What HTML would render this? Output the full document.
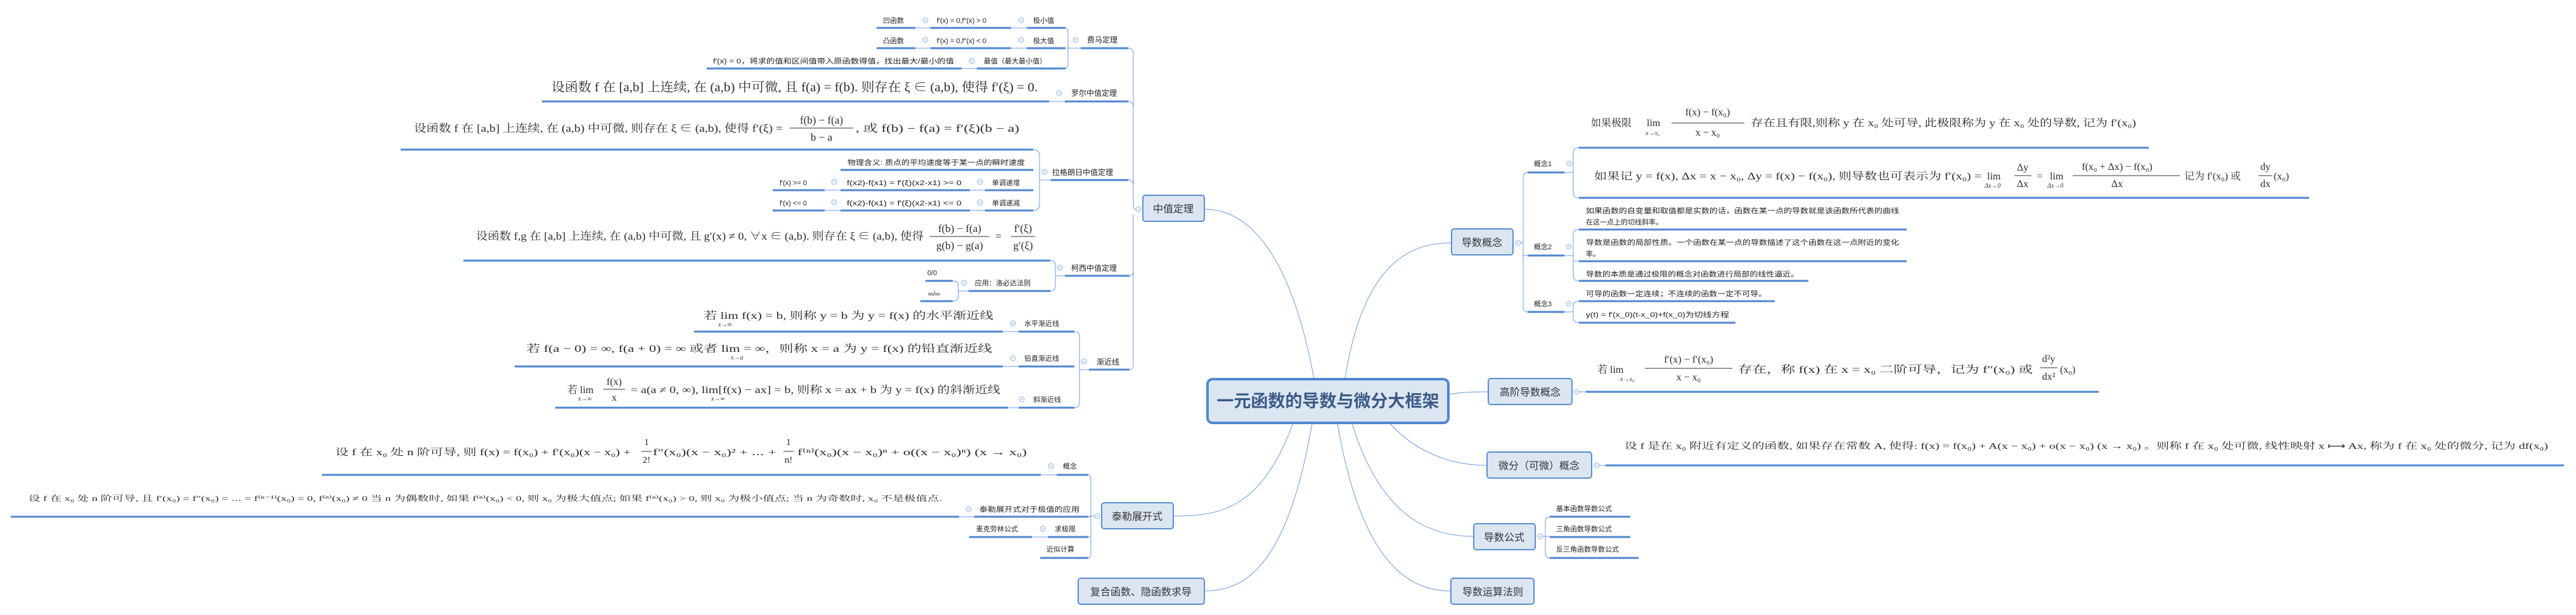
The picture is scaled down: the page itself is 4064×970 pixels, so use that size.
<!DOCTYPE html>
<html><head><meta charset="utf-8"><style>
html,body{margin:0;padding:0;background:#fff;}
svg{display:block}
.s{font-family:"Liberation Sans","Noto Sans CJK SC",sans-serif;font-size:11px;fill:#222}
.m{font-family:"Liberation Sans","Noto Sans CJK SC",sans-serif;font-size:12px;fill:#222}
.n{font-family:"Liberation Sans","Noto Sans CJK SC",sans-serif;font-size:16px;fill:#333}
.f{font-family:"Liberation Serif","Noto Serif CJK SC",serif;fill:#2a2a2a}
.fs{font-family:"Liberation Serif","Noto Serif CJK SC",serif;fill:#333;font-style:italic;font-size:10px}
.u{stroke:#4f86cf;stroke-width:3;fill:none}
.t{stroke:#6f9be0;stroke-width:1;fill:none}
.node{fill:#dce6f2;stroke:#5b8fd0;stroke-width:2}
.bar{stroke:#333;stroke-width:1}
</style></head><body>
<svg width="4064" height="970" viewBox="0 0 4064 970" xmlns="http://www.w3.org/2000/svg">
<defs>
<g id="c"><circle cx="0" cy="0" r="4" fill="#fff" stroke="#8aaee0" stroke-width="1"/><line x1="-2" y1="0" x2="2" y2="0" stroke="#8aaee0" stroke-width="1"/></g>
</defs>

<path class="t" d="M2073,597 C2040,420 1980,330 1900,330"/>
<path class="t" d="M2040,668 C1990,800 1930,814 1851,814"/>
<path class="t" d="M2070,668 C2030,900 1960,932 1900,932"/>
<path class="t" d="M2122,597 C2150,420 2220,383 2290,383"/>
<path class="t" d="M2286,622 C2310,618 2330,618 2348,618"/>
<path class="t" d="M2193,668 C2240,720 2300,734 2346,734"/>
<path class="t" d="M2133,668 C2180,820 2260,846 2325,846"/>
<path class="t" d="M2110,668 C2150,900 2230,932 2289,932"/>

<rect x="1905" y="598" width="380" height="69" rx="8" fill="#dce6f2" stroke="#4f86cf" stroke-width="4"/>
<text x="2095" y="642" text-anchor="middle" style="font-family:'Liberation Sans','Noto Sans CJK SC',sans-serif;font-size:27px;font-weight:bold;fill:#3b5b86">一元函数的导数与微分大框架</text>

<rect class="node" x="1803" y="308" width="97" height="41" rx="4"/>
<text class="n" x="1851" y="335" text-anchor="middle">中值定理</text>
<use href="#c" x="1796" y="330"/>
<path class="t" d="M1792,330 Q1788,330 1788,322 L1788,84 Q1788,76 1780,76"/>
<path class="t" d="M1788,170 Q1788,160 1780,160"/>
<path class="t" d="M1788,292 Q1788,284 1780,284"/>
<path class="t" d="M1788,338 L1788,575 Q1788,583 1782,583"/>
<path class="t" d="M1788,427 Q1788,435 1782,435"/>

<text class="m" x="1715" y="67">费马定理</text>
<line class="u" x1="1705" y1="76" x2="1780" y2="76"/>
<use href="#c" x="1697" y="63"/>
<path class="t" d="M1705,76 L1683,76 M1681,44 Q1685,44 1685,52 L1685,100 Q1685,108 1681,108"/>
<text class="s" x="1393" y="36">凹函数</text>
<line class="u" x1="1383" y1="44" x2="1444" y2="44"/>
<line class="t" x1="1444" y1="44" x2="1468" y2="44"/>
<use href="#c" x="1460" y="32"/>
<text class="s" x="1478" y="36">f′(x) = 0,f″(x) &gt; 0</text>
<line class="u" x1="1468" y1="44" x2="1595" y2="44"/>
<line class="t" x1="1595" y1="44" x2="1620" y2="44"/>
<use href="#c" x="1611" y="32"/>
<text class="s" x="1630" y="36">极小值</text>
<line class="u" x1="1620" y1="44" x2="1681" y2="44"/>

<text class="s" x="1393" y="68">凸函数</text>
<line class="u" x1="1383" y1="76" x2="1444" y2="76"/>
<line class="t" x1="1444" y1="76" x2="1468" y2="76"/>
<use href="#c" x="1460" y="63"/>
<text class="s" x="1478" y="68">f′(x) = 0,f″(x) &lt; 0</text>
<line class="u" x1="1468" y1="76" x2="1595" y2="76"/>
<line class="t" x1="1595" y1="76" x2="1620" y2="76"/>
<use href="#c" x="1611" y="63"/>
<text class="s" x="1630" y="68">极大值</text>
<line class="u" x1="1620" y1="76" x2="1681" y2="76"/>

<text class="s" x="1125" y="100" textLength="380" lengthAdjust="spacingAndGlyphs">f′(x) = 0，将求的值和区间值带入原函数得值，找出最大/最小的值</text>
<line class="u" x1="1115" y1="108" x2="1517" y2="108"/>
<line class="t" x1="1517" y1="108" x2="1541" y2="108"/>
<use href="#c" x="1533" y="96"/>
<text class="s" x="1552" y="100">最值（最大最小值）</text>
<line class="u" x1="1541" y1="108" x2="1681" y2="108"/>

<text class="f" x="870" y="144" font-size="20" textLength="767" lengthAdjust="spacingAndGlyphs">设函数 f 在 [a,b] 上连续, 在 (a,b) 中可微, 且 f(a) = f(b). 则存在 ξ ∈ (a,b), 使得 f′(ξ) = 0.</text>
<line class="u" x1="855" y1="160" x2="1655" y2="160"/>
<line class="t" x1="1655" y1="160" x2="1680" y2="160"/>
<use href="#c" x="1671" y="147"/>
<text class="m" x="1690" y="151">罗尔中值定理</text>
<line class="u" x1="1680" y1="160" x2="1780" y2="160"/>

<text class="f" x="653" y="208" font-size="17" textLength="582" lengthAdjust="spacingAndGlyphs">设函数 f 在 [a,b] 上连续, 在 (a,b) 中可微, 则存在 ξ ∈ (a,b), 使得 f′(ξ) =</text>
<text class="f" x="1296" y="195" font-size="17" text-anchor="middle">f(b) − f(a)</text>
<line class="bar" x1="1246" y1="202" x2="1346" y2="202"/>
<text class="f" x="1296" y="222" font-size="17" text-anchor="middle">b − a</text>
<text class="f" x="1350" y="208" font-size="17" textLength="258" lengthAdjust="spacingAndGlyphs">, 或 f(b) − f(a) = f′(ξ)(b − a)</text>
<line class="u" x1="632" y1="236" x2="1630" y2="236"/>

<text class="s" x="1337" y="260" textLength="280" lengthAdjust="spacingAndGlyphs">物理含义: 质点的平均速度等于某一点的瞬时速度</text>
<line class="u" x1="1326" y1="268" x2="1630" y2="268"/>
<text class="s" x="1230" y="292">f′(x) &gt;= 0</text>
<line class="u" x1="1219" y1="300" x2="1301" y2="300"/>
<line class="t" x1="1301" y1="300" x2="1326" y2="300"/>
<use href="#c" x="1316" y="287"/>
<text class="s" x="1336" y="292" textLength="181" lengthAdjust="spacingAndGlyphs">f(x2)-f(x1) = f′(ξ)(x2-x1) &gt;= 0</text>
<line class="u" x1="1326" y1="300" x2="1530" y2="300"/>
<line class="t" x1="1530" y1="300" x2="1554" y2="300"/>
<use href="#c" x="1546" y="287"/>
<text class="s" x="1565" y="292">单调递增</text>
<line class="u" x1="1554" y1="300" x2="1630" y2="300"/>
<text class="s" x="1230" y="324">f′(x) &lt;= 0</text>
<line class="u" x1="1219" y1="332" x2="1301" y2="332"/>
<line class="t" x1="1301" y1="332" x2="1326" y2="332"/>
<use href="#c" x="1316" y="319"/>
<text class="s" x="1336" y="324" textLength="181" lengthAdjust="spacingAndGlyphs">f(x2)-f(x1) = f′(ξ)(x2-x1) &lt;= 0</text>
<line class="u" x1="1326" y1="332" x2="1530" y2="332"/>
<line class="t" x1="1530" y1="332" x2="1554" y2="332"/>
<use href="#c" x="1546" y="319"/>
<text class="s" x="1565" y="324">单调递减</text>
<line class="u" x1="1554" y1="332" x2="1630" y2="332"/>
<path class="t" d="M1630,236 Q1640,236 1640,246 L1640,322 Q1640,332 1630,332 M1640,284 L1665,284"/>
<use href="#c" x="1648" y="271"/>
<text class="m" x="1660" y="276">拉格朗日中值定理</text>
<line class="u" x1="1658" y1="284" x2="1780" y2="284"/>

<text class="f" x="751" y="378" font-size="17" textLength="706" lengthAdjust="spacingAndGlyphs">设函数 f,g 在 [a,b] 上连续, 在 (a,b) 中可微, 且 g′(x) ≠ 0, ∀x ∈ (a,b). 则存在 ξ ∈ (a,b), 使得</text>
<text class="f" x="1514" y="366" font-size="17" text-anchor="middle">f(b) − f(a)</text>
<line class="bar" x1="1467" y1="373" x2="1561" y2="373"/>
<text class="f" x="1514" y="393" font-size="17" text-anchor="middle">g(b) − g(a)</text>
<text class="f" x="1575" y="378" font-size="17" text-anchor="middle">=</text>
<text class="f" x="1614" y="366" font-size="17" text-anchor="middle">f′(ξ)</text>
<line class="bar" x1="1595" y1="373" x2="1633" y2="373"/>
<text class="f" x="1614" y="393" font-size="17" text-anchor="middle">g′(ξ)</text>
<line class="u" x1="731" y1="411" x2="1657" y2="411"/>
<text class="s" x="1463" y="434">0/0</text>
<line class="u" x1="1460" y1="443" x2="1503" y2="443"/>
<text class="s" x="1464" y="467">∞/∞</text>
<line class="u" x1="1452" y1="475" x2="1503" y2="475"/>
<path class="t" d="M1503,443 Q1512,443 1512,451 L1512,467 Q1512,475 1503,475 M1512,459 L1528,459"/>
<use href="#c" x="1521" y="446"/>
<text class="s" x="1538" y="450">应用：洛必达法则</text>
<line class="u" x1="1528" y1="459" x2="1657" y2="459"/>
<path class="t" d="M1657,411 Q1665,411 1665,419 L1665,451 Q1665,459 1657,459 M1665,435 L1680,435"/>
<use href="#c" x="1672" y="422"/>
<text class="m" x="1690" y="427">柯西中值定理</text>
<line class="u" x1="1680" y1="435" x2="1782" y2="435"/>

<text class="f" x="1110" y="503" font-size="16" textLength="457" lengthAdjust="spacingAndGlyphs">若 lim f(x) = b, 则称 y = b 为 y = f(x) 的水平渐近线</text>
<text class="fs" x="1133" y="515">x→∞</text>
<line class="u" x1="1095" y1="523" x2="1582" y2="523"/>
<line class="t" x1="1582" y1="523" x2="1607" y2="523"/>
<use href="#c" x="1598" y="510"/>
<text class="s" x="1616" y="514">水平渐近线</text>
<line class="u" x1="1607" y1="523" x2="1695" y2="523"/>

<text class="f" x="830" y="555" font-size="16" textLength="735" lengthAdjust="spacingAndGlyphs">若 f(a − 0) = ∞, f(a + 0) = ∞ 或者 lim = ∞，则称 x = a 为 y = f(x) 的铅直渐近线</text>
<text class="fs" x="1153" y="567">x→a</text>
<line class="u" x1="812" y1="578" x2="1582" y2="578"/>
<line class="t" x1="1582" y1="578" x2="1607" y2="578"/>
<use href="#c" x="1598" y="565"/>
<text class="s" x="1616" y="569">铅直渐近线</text>
<line class="u" x1="1607" y1="578" x2="1695" y2="578"/>

<text class="f" x="895" y="620" font-size="16">若 lim</text>
<text class="fs" x="912" y="632">x→∞</text>
<text class="f" x="969" y="607" font-size="16" text-anchor="middle">f(x)</text>
<line class="bar" x1="952" y1="614" x2="986" y2="614"/>
<text class="f" x="969" y="632" font-size="16" text-anchor="middle">x</text>
<text class="f" x="995" y="620" font-size="16" textLength="583" lengthAdjust="spacingAndGlyphs">= a(a ≠ 0, ∞), lim[f(x) − ax] = b, 则称 x = ax + b 为 y = f(x) 的斜渐近线</text>
<text class="fs" x="1122" y="632">x→∞</text>
<line class="u" x1="876" y1="643" x2="1590" y2="643"/>
<line class="t" x1="1590" y1="643" x2="1607" y2="643"/>
<use href="#c" x="1612" y="630"/>
<text class="s" x="1630" y="634">斜渐近线</text>
<line class="u" x1="1607" y1="643" x2="1695" y2="643"/>
<path class="t" d="M1695,523 Q1703,523 1703,531 L1703,635 Q1703,643 1695,643 M1703,583 L1718,583"/>
<use href="#c" x="1710" y="570"/>
<text class="m" x="1730" y="575">渐近线</text>
<line class="u" x1="1718" y1="583" x2="1782" y2="583"/>

<rect class="node" x="1738" y="793" width="113" height="41" rx="4"/>
<text class="n" x="1794" y="820" text-anchor="middle">泰勒展开式</text>
<use href="#c" x="1731" y="814"/>
<path class="t" d="M1727,814 L1719,814 M1717,749 Q1721,749 1721,757 L1721,872 Q1721,880 1717,880 M1721,815 L1717,815 M1721,847 L1717,847"/>

<text class="f" x="529" y="718" font-size="15" textLength="466" lengthAdjust="spacingAndGlyphs">设 f 在 x₀ 处 n 阶可导, 则 f(x) = f(x₀) + f′(x₀)(x − x₀) +</text>
<text class="f" x="1020" y="702" font-size="15" text-anchor="middle">1</text>
<line class="bar" x1="1012" y1="712" x2="1028" y2="712"/>
<text class="f" x="1020" y="730" font-size="15" text-anchor="middle">2!</text>
<text class="f" x="1030" y="718" font-size="15" textLength="195" lengthAdjust="spacingAndGlyphs">f″(x₀)(x − x₀)² + ⋯ +</text>
<text class="f" x="1244" y="702" font-size="15" text-anchor="middle">1</text>
<line class="bar" x1="1236" y1="712" x2="1252" y2="712"/>
<text class="f" x="1244" y="730" font-size="15" text-anchor="middle">n!</text>
<text class="f" x="1258" y="718" font-size="15" textLength="362" lengthAdjust="spacingAndGlyphs">f⁽ⁿ⁾(x₀)(x − x₀)ⁿ + o((x − x₀)ⁿ)   (x → x₀)</text>
<line class="u" x1="508" y1="749" x2="1642" y2="749"/>
<line class="t" x1="1642" y1="749" x2="1667" y2="749"/>
<use href="#c" x="1658" y="735"/>
<text class="s" x="1677" y="739">概念</text>
<line class="u" x1="1667" y1="749" x2="1717" y2="749"/>

<text class="f" x="45" y="790" font-size="12" textLength="1441" lengthAdjust="spacingAndGlyphs">设 f 在 x₀ 处 n 阶可导, 且 f′(x₀) = f″(x₀) = ⋯ = f⁽ⁿ⁻¹⁾(x₀) = 0, f⁽ⁿ⁾(x₀) ≠ 0 当 n 为偶数时, 如果 f⁽ⁿ⁾(x₀) &lt; 0, 则 x₀ 为极大值点; 如果 f⁽ⁿ⁾(x₀) &gt; 0, 则 x₀ 为极小值点; 当 n 为奇数时, x₀ 不是极值点.</text>
<line class="u" x1="17" y1="815" x2="1513" y2="815"/>
<line class="t" x1="1513" y1="815" x2="1537" y2="815"/>
<use href="#c" x="1528" y="803"/>
<text class="s" x="1545" y="807" textLength="158" lengthAdjust="spacingAndGlyphs">泰勒展开式对于极值的应用</text>
<line class="u" x1="1537" y1="815" x2="1717" y2="815"/>
<text class="s" x="1540" y="838">麦克劳林公式</text>
<line class="u" x1="1529" y1="847" x2="1628" y2="847"/>
<line class="t" x1="1628" y1="847" x2="1653" y2="847"/>
<use href="#c" x="1645" y="834"/>
<text class="s" x="1664" y="838">求极限</text>
<line class="u" x1="1653" y1="847" x2="1717" y2="847"/>
<text class="s" x="1651" y="870">近似计算</text>
<line class="u" x1="1641" y1="880" x2="1717" y2="880"/>

<rect class="node" x="1701" y="912" width="199" height="41" rx="4"/>
<text class="n" x="1800" y="939" text-anchor="middle">复合函数、隐函数求导</text>

<rect class="node" x="2290" y="361" width="97" height="41" rx="4"/>
<text class="n" x="2338" y="388" text-anchor="middle">导数概念</text>
<use href="#c" x="2395" y="383"/>
<path class="t" d="M2399,383 L2403,383 M2410,272 Q2403,272 2403,280 L2403,484 Q2403,492 2410,492 M2403,403 L2410,403"/>
<text class="s" x="2420" y="262">概念1</text>
<line class="u" x1="2410" y1="272" x2="2468" y2="272"/>
<use href="#c" x="2476" y="258"/>
<path class="t" d="M2468,272 L2482,272 M2491,233 Q2482,233 2482,241 L2482,304 Q2482,312 2491,312"/>

<text class="f" x="2510" y="199" font-size="16">如果极限</text>
<text class="f" x="2598" y="199" font-size="16">lim</text>
<text class="fs" x="2596" y="213">x→x₀</text>
<text class="f" x="2694" y="182" font-size="16" text-anchor="middle">f(x) − f(x₀)</text>
<line class="bar" x1="2637" y1="194" x2="2752" y2="194"/>
<text class="f" x="2694" y="214" font-size="16" text-anchor="middle">x − x₀</text>
<text class="f" x="2762" y="199" font-size="16" textLength="608" lengthAdjust="spacingAndGlyphs">存在且有限,则称 y 在 x₀ 处可导, 此极限称为 y 在 x₀ 处的导数, 记为 f′(x₀)</text>
<line class="u" x1="2491" y1="233" x2="3390" y2="233"/>

<text class="f" x="2515" y="283" font-size="16" textLength="611" lengthAdjust="spacingAndGlyphs">如果记 y = f(x), Δx = x − x₀, Δy = f(x) − f(x₀), 则导数也可表示为 f′(x₀) =</text>
<text class="f" x="3135" y="283" font-size="16">lim</text>
<text class="fs" x="3131" y="296">Δx→0</text>
<text class="f" x="3191" y="269" font-size="16" text-anchor="middle">Δy</text>
<line class="bar" x1="3178" y1="277" x2="3205" y2="277"/>
<text class="f" x="3191" y="295" font-size="16" text-anchor="middle">Δx</text>
<text class="f" x="3218" y="283" font-size="16" text-anchor="middle">=</text>
<text class="f" x="3234" y="283" font-size="16">lim</text>
<text class="fs" x="3230" y="296">Δx→0</text>
<text class="f" x="3340" y="268" font-size="16" text-anchor="middle">f(x₀ + Δx) − f(x₀)</text>
<line class="bar" x1="3270" y1="277" x2="3439" y2="277"/>
<text class="f" x="3340" y="295" font-size="16" text-anchor="middle">Δx</text>
<text class="f" x="3446" y="283" font-size="16">记为 f′(x₀) 或</text>
<text class="f" x="3574" y="268" font-size="16" text-anchor="middle">dy</text>
<line class="bar" x1="3563" y1="277" x2="3585" y2="277"/>
<text class="f" x="3574" y="295" font-size="16" text-anchor="middle">dx</text>
<text class="f" x="3587" y="283" font-size="16">(x₀)</text>
<line class="u" x1="2491" y1="312" x2="3643" y2="312"/>

<text class="s" x="2420" y="393">概念2</text>
<line class="u" x1="2410" y1="403" x2="2468" y2="403"/>
<use href="#c" x="2475" y="389"/>
<path class="t" d="M2468,403 L2482,403 M2491,362 Q2482,362 2482,370 L2482,435 Q2482,443 2491,443 M2482,412 L2491,412"/>
<text class="s" x="2502" y="336" textLength="494" lengthAdjust="spacingAndGlyphs">如果函数的自变量和取值都是实数的话，函数在某一点的导数就是该函数所代表的曲线</text>
<text class="s" x="2502" y="354">在这一点上的切线斜率。</text>
<line class="u" x1="2491" y1="362" x2="3008" y2="362"/>
<text class="s" x="2502" y="386" textLength="494" lengthAdjust="spacingAndGlyphs">导数是函数的局部性质。一个函数在某一点的导数描述了这个函数在这一点附近的变化</text>
<text class="s" x="2502" y="404">率。</text>
<line class="u" x1="2491" y1="412" x2="3008" y2="412"/>
<text class="s" x="2502" y="436" textLength="336" lengthAdjust="spacingAndGlyphs">导数的本质是通过极限的概念对函数进行局部的线性逼近。</text>
<line class="u" x1="2491" y1="443" x2="2853" y2="443"/>

<text class="s" x="2420" y="483">概念3</text>
<line class="u" x1="2410" y1="492" x2="2468" y2="492"/>
<use href="#c" x="2475" y="479"/>
<path class="t" d="M2468,492 L2482,492 M2491,475 Q2482,475 2482,483 L2482,501 Q2482,509 2491,509"/>
<text class="s" x="2502" y="467" textLength="285" lengthAdjust="spacingAndGlyphs">可导的函数一定连续；不连续的函数一定不可导。</text>
<line class="u" x1="2491" y1="475" x2="2800" y2="475"/>
<text class="s" x="2502" y="500" textLength="226" lengthAdjust="spacingAndGlyphs">y(t) = f′(x_0)(t-x_0)+f(x_0)为切线方程</text>
<line class="u" x1="2491" y1="509" x2="2738" y2="509"/>

<rect class="node" x="2348" y="597" width="132" height="41" rx="4"/>
<text class="n" x="2414" y="624" text-anchor="middle">高阶导数概念</text>
<use href="#c" x="2487" y="618"/>
<line class="t" x1="2491" y1="618" x2="2502" y2="618"/>
<text class="f" x="2520" y="588" font-size="16">若 lim</text>
<text class="fs" x="2556" y="601">x→x₀</text>
<text class="f" x="2664" y="572" font-size="16" text-anchor="middle">f′(x) − f′(x₀)</text>
<line class="bar" x1="2595" y1="581" x2="2733" y2="581"/>
<text class="f" x="2664" y="600" font-size="16" text-anchor="middle">x − x₀</text>
<text class="f" x="2742" y="588" font-size="16" textLength="465" lengthAdjust="spacingAndGlyphs">存在，称 f(x) 在 x = x₀ 二阶可导，记为 f″(x₀) 或</text>
<text class="f" x="3232" y="571" font-size="16" text-anchor="middle">d²y</text>
<line class="bar" x1="3218" y1="580" x2="3246" y2="580"/>
<text class="f" x="3232" y="599" font-size="16" text-anchor="middle">dx²</text>
<text class="f" x="3250" y="588" font-size="16">(x₀)</text>
<line class="u" x1="2502" y1="618" x2="3311" y2="618"/>

<rect class="node" x="2346" y="713" width="165" height="41" rx="4"/>
<text class="n" x="2428" y="740" text-anchor="middle">微分（可微）概念</text>
<use href="#c" x="2519" y="734"/>
<line class="t" x1="2523" y1="734" x2="2533" y2="734"/>
<text class="f" x="2563" y="708" font-size="14" textLength="1457" lengthAdjust="spacingAndGlyphs">设 f 是在 x₀ 附近有定义的函数, 如果存在常数 A, 使得:   f(x) = f(x₀) + A(x − x₀) + o(x − x₀)    (x → x₀) 。则称 f 在 x₀ 处可微, 线性映射 x ⟼ Ax, 称为 f 在 x₀ 处的微分, 记为 df(x₀)</text>
<line class="u" x1="2533" y1="734" x2="4045" y2="734"/>

<rect class="node" x="2325" y="826" width="97" height="41" rx="4"/>
<text class="n" x="2373" y="853" text-anchor="middle">导数公式</text>
<use href="#c" x="2430" y="846"/>
<path class="t" d="M2434,846 L2445,846 M2445,815 Q2438,815 2438,823 L2438,872 Q2438,880 2445,880"/>
<text class="s" x="2455" y="806">基本函数导数公式</text>
<line class="u" x1="2445" y1="815" x2="2572" y2="815"/>
<text class="s" x="2455" y="838">三角函数导数公式</text>
<line class="u" x1="2445" y1="847" x2="2572" y2="847"/>
<text class="s" x="2455" y="870">反三角函数导数公式</text>
<line class="u" x1="2445" y1="880" x2="2585" y2="880"/>

<rect class="node" x="2289" y="912" width="131" height="41" rx="4"/>
<text class="n" x="2355" y="939" text-anchor="middle">导数运算法则</text>
</svg>
</body></html>
